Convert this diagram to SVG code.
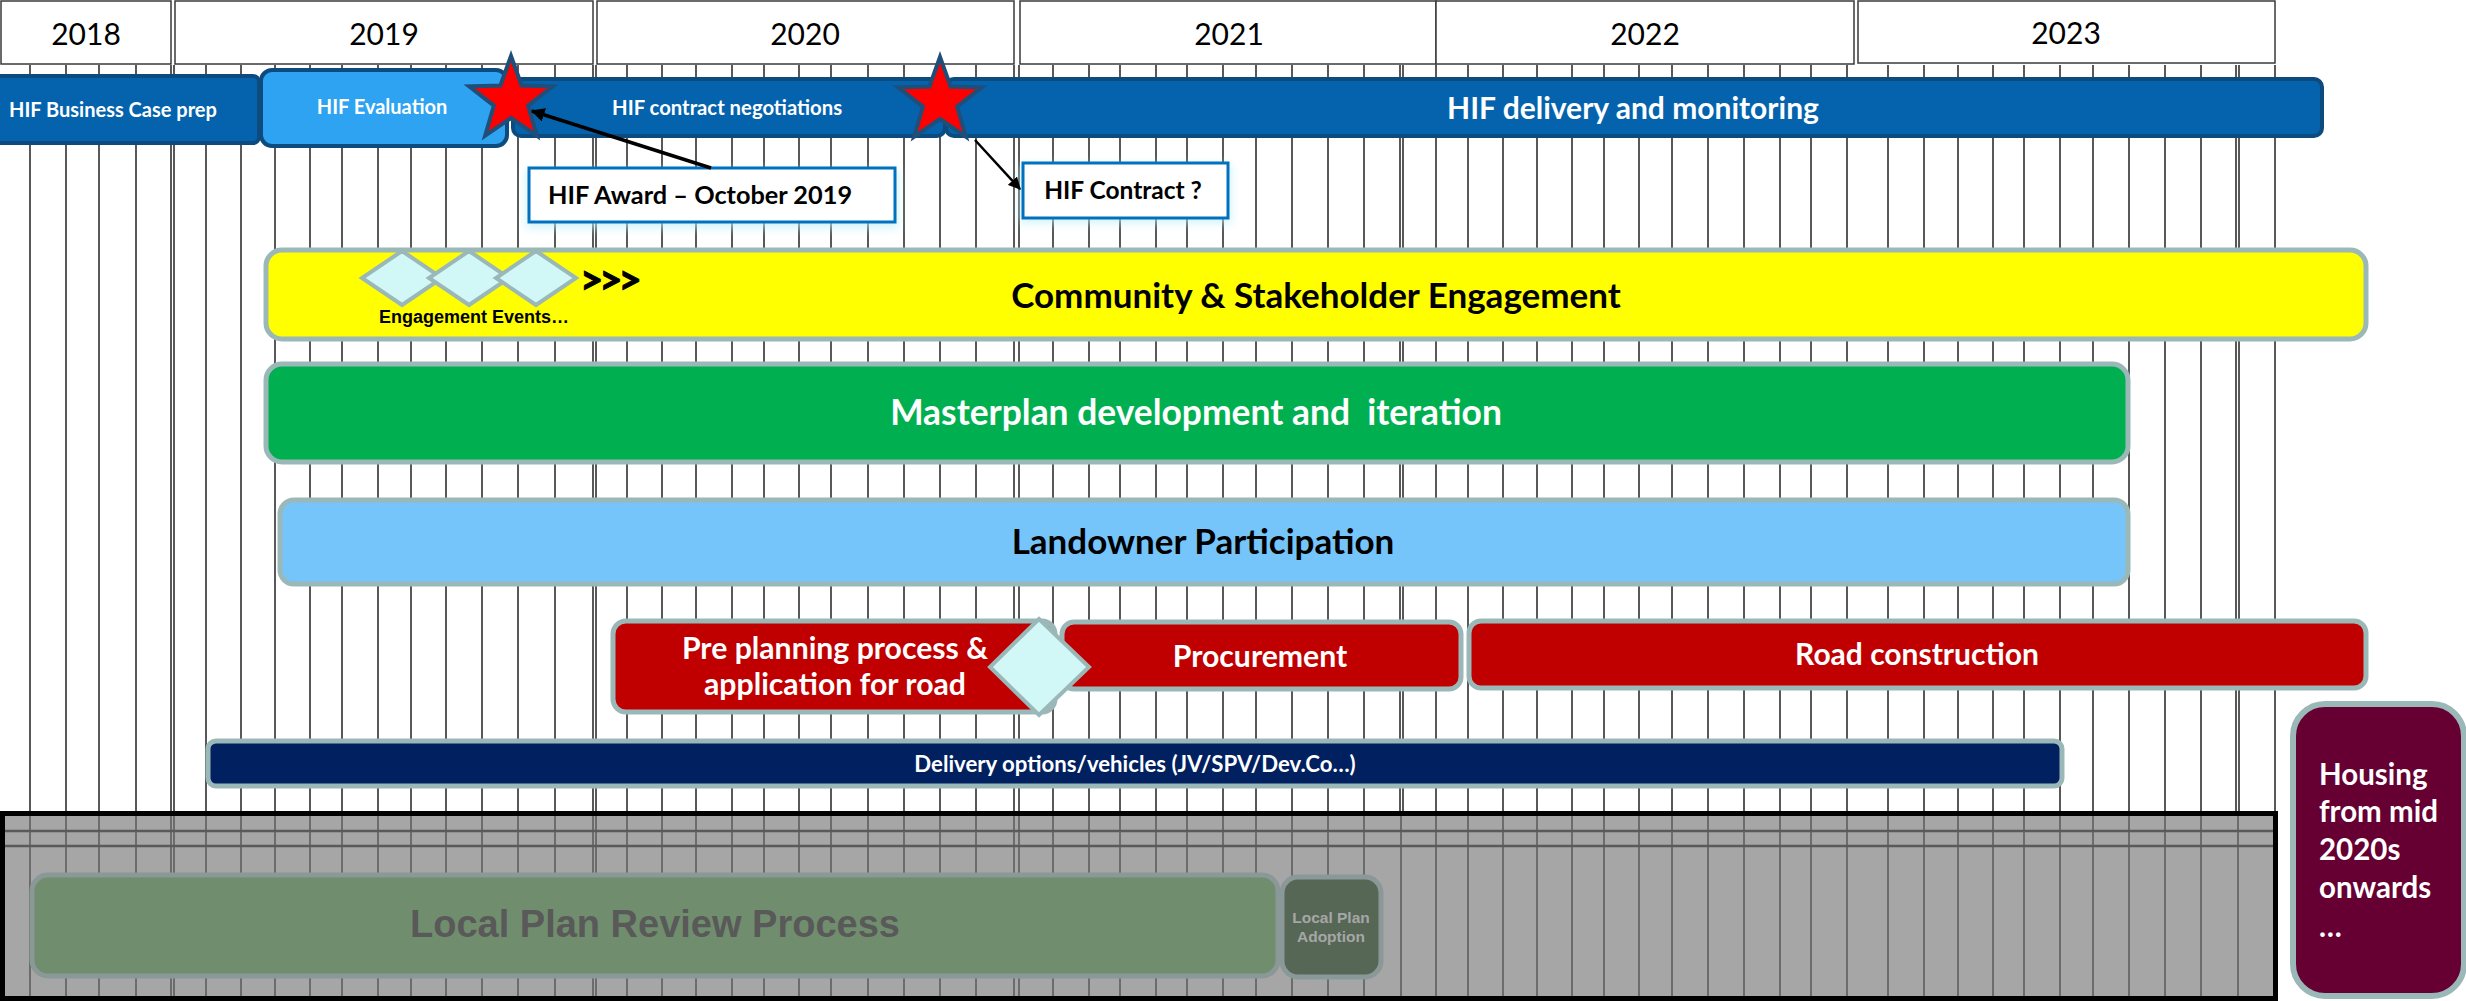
<svg xmlns="http://www.w3.org/2000/svg" width="2466" height="1001" viewBox="0 0 2466 1001">
<defs>
<style>
.cal{font-family:Lato,'Noto Sans','Liberation Sans',sans-serif;font-weight:700}
.ari{font-family:'Liberation Sans',Arial,sans-serif;font-weight:700}
.yr{font-family:Lato,'Liberation Sans',sans-serif;font-weight:400;font-size:30px;fill:#000;text-anchor:middle}
.hdr{fill:#fff;stroke:#3a3a3a;stroke-width:1.5}
.grid{stroke:#000;stroke-width:1.3;fill:none}
.ggrid{stroke:#5a5a5a;stroke-width:1.5;fill:none}
.hif{fill:#0563ad;stroke:#0d4a7e;stroke-width:4}
.bar{stroke:#9bb8b8;stroke-width:5}
.dia{fill:#d2f7f7;stroke:#9bb8b8;stroke-width:4}
.w{fill:#fff}
.k{fill:#000}
.mid{text-anchor:middle}
.call{fill:#fff;stroke:#0070c0;stroke-width:3}
.glow{fill:#bdeef6;opacity:0.7}
.star{fill:#ff0000;stroke:#1f4e79;stroke-width:4}
.conn{stroke:#000;fill:none}
</style>
<marker id="ah" viewBox="0 0 10 10" refX="9" refY="5" markerWidth="4" markerHeight="4" orient="auto" markerUnits="strokeWidth"><path d="M0 0L10 5L0 10z" fill="#000"/></marker>
<marker id="ah2" viewBox="0 0 10 10" refX="9" refY="5" markerWidth="5" markerHeight="5" orient="auto" markerUnits="strokeWidth"><path d="M0 0L10 5L0 10z" fill="#000"/></marker>
<polygon id="starShape" points="0,-44 10.58,-14.56 41.85,-13.6 17.12,5.56 25.86,35.6 0,18 -25.86,35.6 -17.12,5.56 -41.85,-13.6 -10.58,-14.56"/>
<filter id="blur" x="-20%" y="-60%" width="140%" height="220%"><feGaussianBlur stdDeviation="5"/></filter>
</defs>

<rect x="0" y="0" width="2466" height="1001" fill="#fff"/>

<g id="grid">
<path class="grid" d="M30 65V811M66 65V811M99 65V811M136 65V811M171 65V811M174 65V811M206 65V811M241 65V811M275 65V811M310 65V811M342 65V811M378 65V811M411 65V811M446 65V811M482 65V811M518 65V811M555 65V811M593 65V811M596 65V811M627 65V811M662 65V811M696 65V811M732 65V811M764 65V811M799 65V811M831 65V811M868 65V811M904 65V811M940 65V811M976 65V811M1014 65V811M1019 65V811M1053 65V811M1089 65V811M1120 65V811M1156 65V811M1187 65V811M1223 65V811M1256 65V811M1292 65V811M1328 65V811M1364 65V811M1400 65V811M1403 65V811M1436 65V811M1468 65V811M1503 65V811M1537 65V811M1572 65V811M1604 65V811M1639 65V811M1672 65V811M1708 65V811M1744 65V811M1780 65V811M1811 65V811M1847 65V811M1888 65V811M1924 65V811M1958 65V811M1993 65V811M2024 65V811M2060 65V811M2093 65V811M2129 65V811M2165 65V811M2201 65V811M2236 65V811M2239 65V811M2275 65V811"/>
</g>

<g id="local-plan-area">
<rect x="2.5" y="813.5" width="2273" height="185" fill="#a6a6a6"/>
<path class="ggrid" d="M30 816V997M66 816V997M99 816V997M136 816V997M171 816V997M174 816V997M206 816V997M241 816V997M275 816V997M310 816V997M342 816V997M378 816V997M411 816V997M446 816V997M482 816V997M518 816V997M555 816V997M593 816V997M596 816V997M627 816V997M662 816V997M696 816V997M732 816V997M764 816V997M799 816V997M831 816V997M868 816V997M904 816V997M940 816V997M976 816V997M1014 816V997M1019 816V997M1053 816V997M1089 816V997M1120 816V997M1156 816V997M1187 816V997M1223 816V997M1256 816V997M1292 816V997M1328 816V997M1364 816V997M1401 816V997M1436 816V997M1468 816V997M1503 816V997M1537 816V997M1572 816V997M1604 816V997M1639 816V997M1672 816V997M1708 816V997M1744 816V997M1780 816V997M1811 816V997M1847 816V997M1888 816V997M1924 816V997M1958 816V997M1993 816V997M2024 816V997M2060 816V997M2093 816V997M2129 816V997M2165 816V997M2201 816V997M2238 816V997"/>
<path d="M3 831H2273M3 846H2273" stroke="#5a5a5a" stroke-width="2.5" fill="none"/>
<rect x="2.5" y="813.5" width="2273" height="185" fill="none" stroke="#000" stroke-width="5"/>
</g>

<g id="year-2018"><rect class="hdr" x="1" y="1" width="170" height="63"/><text class="yr" x="86" y="45">2018</text></g>
<g id="year-2019"><rect class="hdr" x="175" y="1" width="418" height="63"/><text class="yr" x="384" y="45">2019</text></g>
<g id="year-2020"><rect class="hdr" x="597" y="1" width="417" height="63"/><text class="yr" x="805" y="45">2020</text></g>
<g id="year-2021"><rect class="hdr" x="1020" y="1" width="416" height="63"/><text class="yr" x="1229" y="45">2021</text></g>
<g id="year-2022"><rect class="hdr" x="1436" y="1" width="418" height="63"/><text class="yr" x="1645" y="45">2022</text></g>
<g id="year-2023"><rect class="hdr" x="1858" y="1" width="417" height="62"/><text class="yr" x="2066" y="44">2023</text></g>

<g id="hif-business-case">
<rect class="hif" x="-10" y="76" width="269" height="67" rx="6"/>
<text class="cal w" x="9" y="117" font-size="20">HIF Business Case prep</text>
</g>
<g id="hif-contract-negotiations">
<rect class="hif" x="513" y="79" width="432" height="57" rx="8"/>
<text class="cal w" x="612" y="115" font-size="20.3">HIF contract negotiations</text>
</g>
<g id="hif-delivery">
<rect class="hif" x="946" y="79" width="1376" height="57" rx="8"/>
<text class="cal w mid" x="1633" y="119" font-size="30">HIF delivery and monitoring</text>
</g>
<g id="hif-evaluation">
<rect x="261" y="70" width="246" height="76" rx="11" fill="#2ea3f2" stroke="#0d4a7e" stroke-width="4"/>
<text class="cal w mid" x="382" y="114" font-size="20">HIF Evaluation</text>
</g>

<g id="hif-award-callout">
<rect class="glow" x="526" y="170" width="372" height="58" filter="url(#blur)"/>
<rect class="call" x="529" y="168" width="366" height="54"/>
<text class="cal k mid" x="700" y="204" font-size="25.3">HIF Award – October 2019</text>
</g>
<g id="hif-contract-callout">
<rect class="glow" x="1020" y="165" width="211" height="58" filter="url(#blur)"/>
<rect class="call" x="1023" y="163" width="205" height="55"/>
<text class="cal k mid" x="1123" y="199" font-size="24.5">HIF Contract ?</text>
</g>

<g id="community-engagement">
<rect class="bar" x="266" y="250" width="2100" height="89" rx="16" fill="#ffff00"/>
<polygon class="dia" points="402,251 442,278 402,305 362,278"/>
<polygon class="dia" points="469,251 509,278 469,305 429,278"/>
<polygon class="dia" points="536,251 576,278 536,305 496,278"/>
<text class="cal k" x="580" y="294" font-size="40" letter-spacing="-4" stroke="#000" stroke-width="1">&gt;&gt;&gt;</text>
<text class="ari k mid" x="474" y="323" font-size="18">Engagement Events…</text>
<text class="cal k mid" x="1316" y="308" font-size="35">Community &amp; Stakeholder Engagement</text>
</g>

<g id="masterplan">
<rect class="bar" x="266" y="364" width="1862" height="98" rx="16" fill="#00b050"/>
<text class="cal w mid" x="1196" y="425" font-size="35.4" xml:space="preserve">Masterplan development and  iteration</text>
</g>

<g id="landowner">
<rect class="bar" x="280" y="500" width="1848" height="84" rx="14" fill="#75c5fb"/>
<text class="cal k mid" x="1203" y="554" font-size="35">Landowner Participation</text>
</g>

<g id="pre-planning">
<rect class="bar" x="613" y="621" width="442" height="91" rx="13" fill="#c00000"/>
<text class="cal w mid" x="835" y="659" font-size="30.2">Pre planning process &amp;</text>
<text class="cal w mid" x="835" y="695" font-size="30.2">application for road</text>
</g>
<g id="procurement">
<rect class="bar" x="1062" y="622" width="399" height="67" rx="12" fill="#c00000"/>
<text class="cal w mid" x="1260" y="667" font-size="30.2">Procurement</text>
</g>
<g id="planning-milestone">
<polygon class="dia" points="1039,619 1089,667 1039,715 990,667" stroke-width="5"/>
</g>
<g id="road-construction">
<rect class="bar" x="1469" y="621" width="897" height="67" rx="12" fill="#c00000"/>
<text class="cal w mid" x="1917" y="665" font-size="30">Road construction</text>
</g>

<g id="delivery-options">
<rect class="bar" x="208" y="741" width="1854" height="45" rx="8" fill="#002060"/>
<text class="cal w mid" x="1135" y="772" font-size="22.2">Delivery options/vehicles (JV/SPV/Dev.Co…)</text>
</g>

<g id="local-plan-review">
<rect x="32" y="875" width="1246" height="101" rx="16" fill="#708d6e" stroke="#8a9898" stroke-width="5"/>
<text class="ari mid" x="655" y="937" font-size="38" fill="#595959">Local Plan Review Process</text>
</g>
<g id="local-plan-adoption">
<rect x="1282" y="877" width="99" height="100" rx="16" fill="#566756" stroke="#8a9898" stroke-width="5"/>
<text class="ari mid" x="1331" y="923" font-size="15.5" fill="#a6a6a6">Local Plan</text>
<text class="ari mid" x="1331" y="942" font-size="15.5" fill="#a6a6a6">Adoption</text>
</g>

<g id="housing">
<rect x="2293" y="704" width="171" height="292" rx="32" fill="#660033" stroke="#9bb8b8" stroke-width="6"/>
<text class="cal w" font-size="29.5"><tspan x="2319" y="785">Housing</tspan><tspan x="2319" y="822">from mid</tspan><tspan x="2319" y="860">2020s</tspan><tspan x="2319" y="898">onwards</tspan><tspan x="2319" y="937">…</tspan></text>
</g>

<g id="milestone-award"><use href="#starShape" class="star" x="511" y="100"/></g>
<g id="milestone-contract"><use href="#starShape" class="star" x="940" y="101"/></g>

<g id="connectors">
<line class="conn" x1="711" y1="168" x2="532" y2="111" stroke-width="3.5" marker-end="url(#ah)"/>
<line class="conn" x1="975" y1="140" x2="1020" y2="189" stroke-width="2.5" marker-end="url(#ah2)"/>
</g>
</svg>
